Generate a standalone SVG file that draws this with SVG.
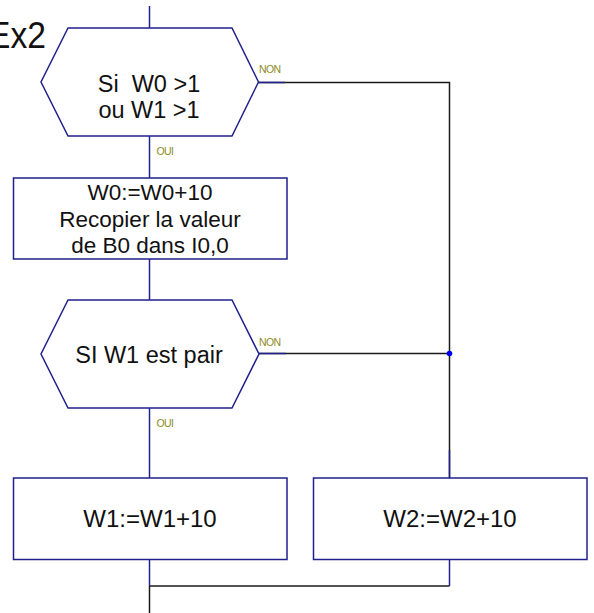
<svg xmlns="http://www.w3.org/2000/svg" width="594" height="613" viewBox="0 0 594 613">
<style>
.shape{fill:#ffffff;stroke:#20208f;stroke-width:1.5}
.t{font-family:"Liberation Sans",Arial,sans-serif;fill:#111111;text-anchor:middle;white-space:pre}
.lbl{font-family:"Liberation Sans",Arial,sans-serif;fill:#8c8c1e;font-size:10.5px;letter-spacing:-0.6px}
.wire{fill:none;stroke:#1a1a1a;stroke-width:1.5}
.stub{fill:none;stroke:#20208f;stroke-width:1.5}
</style>
<rect width="594" height="613" fill="#ffffff"/>
<text x="-12" y="48" textLength="58" lengthAdjust="spacingAndGlyphs" style="font-family:'Liberation Sans',Arial,sans-serif;font-size:36px;fill:#111111">Ex2</text>
<g id="connectors">
  <path class="wire" d="M258.5,82.5 H449.5 V478"/>
  <path class="wire" d="M259,353.5 H449.5"/>
  <path class="wire" d="M149.5,586 H449.5"/>
  <path class="wire" d="M149.5,586 V613"/>
  <path class="stub" d="M149.5,6 V28"/>
  <path class="stub" d="M149.5,136 V178"/>
  <path class="stub" d="M149.5,259 V300"/>
  <path class="stub" d="M149.5,408 V478"/>
  <path class="stub" d="M149.5,560 V586"/>
  <path class="stub" d="M449.5,560 V586"/>
  <path class="stub" d="M449.5,450 V478"/>
  <path class="stub" d="M258.5,82.5 H285"/>
  <path class="stub" d="M259,353.5 H286"/>
  <circle cx="449.5" cy="353.5" r="2.8" fill="#0000ee"/>
  <text class="lbl" x="259" y="72.5">NON</text>
  <text class="lbl" x="156.5" y="154.5">OUI</text>
  <text class="lbl" x="259" y="346">NON</text>
  <text class="lbl" x="156.5" y="426.5">OUI</text>
</g>
<g id="cond1">
  <polygon class="shape" points="68,28 232,28 258.5,82 232,136 68,136 41,82"/>
  <text class="t" x="149" y="92" font-size="23.5">Si  W0 &gt;1</text>
  <text class="t" x="149" y="118" font-size="23.5">ou W1 &gt;1</text>
</g>
<g id="action1">
  <rect class="shape" x="13.5" y="178" width="273.5" height="81"/>
  <text class="t" x="150" y="200" font-size="22.5">W0:=W0+10</text>
  <text class="t" x="150" y="227" font-size="22.5">Recopier la valeur</text>
  <text class="t" x="150" y="253" font-size="22.5">de B0 dans I0,0</text>
</g>
<g id="cond2">
  <polygon class="shape" points="68,300 232,300 259,354 232,408 68,408 41,354"/>
  <text class="t" x="149" y="363" font-size="23.5">SI W1 est pair</text>
</g>
<g id="action2">
  <rect class="shape" x="13.5" y="478" width="273.5" height="81.5"/>
  <text class="t" x="150" y="527" font-size="24">W1:=W1+10</text>
</g>
<g id="action3">
  <rect class="shape" x="313.5" y="478" width="273.5" height="81.5"/>
  <text class="t" x="450" y="527" font-size="24">W2:=W2+10</text>
</g>
</svg>
